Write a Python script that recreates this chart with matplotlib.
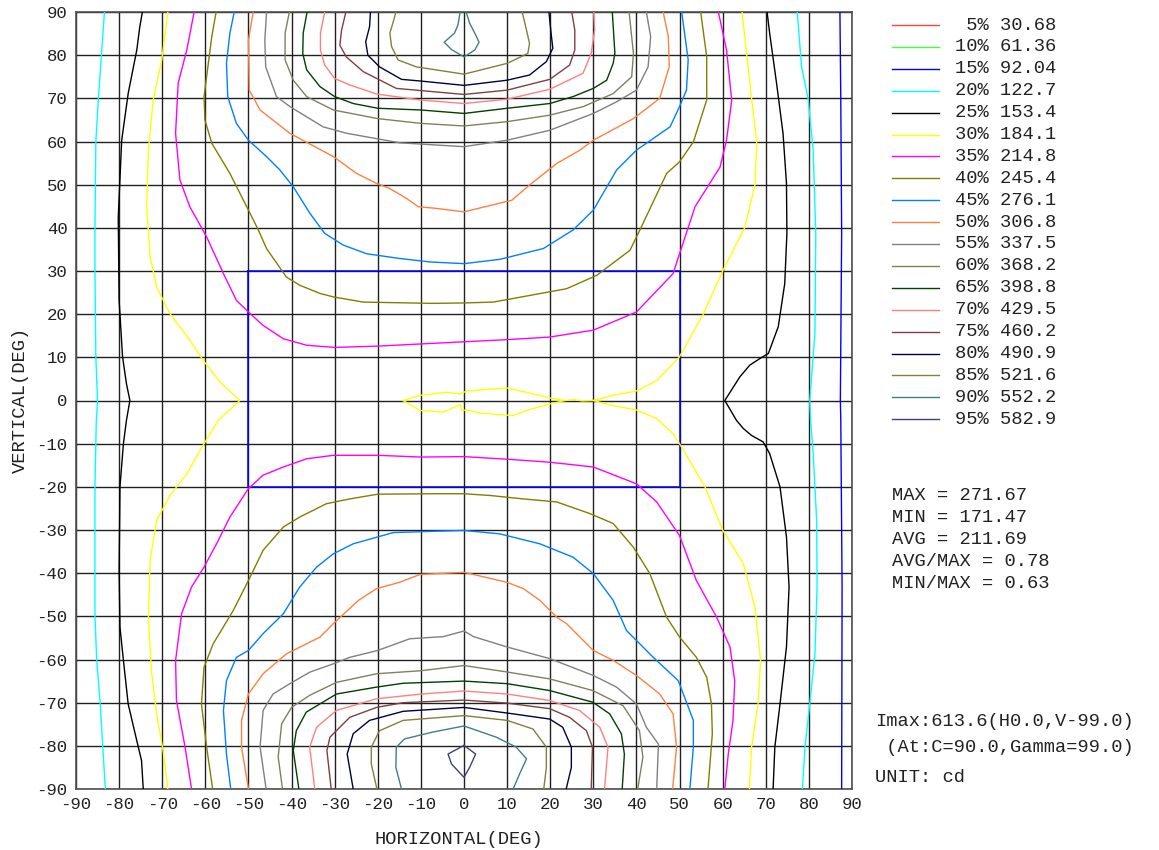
import matplotlib
matplotlib.use("Agg")
import matplotlib.pyplot as plt

plt.rcParams['font.family'] = ['Liberation Mono', 'DejaVu Sans Mono']
plt.rcParams['axes.unicode_minus'] = False

# iso-candela levels (legend)
percents = [5, 10, 15, 20, 25, 30, 35, 40, 45, 50, 55, 60, 65, 70, 75, 80, 85, 90, 95]
level_values = ["30.68", "61.36", "92.04", "122.7", "153.4", "184.1", "214.8", "245.4",
                "276.1", "306.8", "337.5", "368.2", "398.8", "429.5", "460.2", "490.9",
                "521.6", "552.2", "582.9"]
level_colors = ["#ff4040", "#40ff40", "#0000ff", "#00ffff", "#000000", "#ffff00",
                "#ff00ff", "#808000", "#0080ff", "#ff8040", "#808080", "#808060",
                "#004000", "#ff8080", "#804040", "#000040", "#808040", "#408080",
                "#404080"]

stats_lines = ["MAX = 271.67", "MIN = 171.47", "AVG = 211.69",
               "AVG/MAX = 0.78", "MIN/MAX = 0.63"]
info_lines = ["Imax:613.6(H0.0,V-99.0)", " (At:C=90.0,Gamma=99.0)", "UNIT: cd"]

ticks = list(range(-90, 91, 10))
# evaluation window (H, V)
window_h = [-50, 50]
window_v = [-20, 30]

# contour traces, (H deg, V deg)
iso15_right = [(87.2, 90), (87.4, 69.6), (87.6, 38.7), (87.3, 0), (87.4, -4.6),
               (87.7, -43.2), (87.6, -90)]

iso20_left = [(-83.4, 90), (-84.8, 70), (-85.4, 60), (-85.6, 40), (-85.6, 30),
              (-85.4, 10), (-85.0, 0), (-85.3, -5), (-85.6, -20), (-85.6, -50),
              (-85.2, -60), (-84.4, -70), (-83.8, -80), (-83.2, -90)]
iso20_right = [(77.3, 90), (78.3, 77.3), (79.8, 70), (81.0, 58), (81.6, 38.7),
               (81.4, 15.5), (80.2, 0), (80.4, -4.6), (81.0, -12.3), (81.8, -27.8),
               (81.9, -43.2), (81.4, -58.7), (80.2, -70.3), (79.1, -80.3), (78.5, -90)]

iso25_left = [(-74.6, 90), (-75.2, 86.6), (-75.9, 81.2), (-77.9, 71.1), (-79.4, 60.3),
              (-80.2, 42.5), (-80.0, 23.2), (-79.2, 10.1), (-78.3, 3.9), (-77.5, 0),
              (-78.3, -4.6), (-79.0, -10), (-79.8, -20), (-80.0, -39.4), (-79.8, -52.5),
              (-79.0, -60.2), (-77.9, -70.3), (-75.9, -78.8), (-74.8, -83.4), (-74.4, -90)]
iso25_right = [(70.3, 90), (70.9, 85.1), (72.5, 73.5), (74.0, 61.9), (74.8, 50.3),
               (74.9, 38.7), (74.4, 27.1), (72.9, 17.1), (70.6, 10.9), (68.6, 9.7),
               (66.3, 8.2), (64.0, 5.5), (60.5, 0), (63.2, -4.6), (64.8, -6.5),
               (66.7, -8.1), (69.4, -9.6), (70.9, -12.3), (73.3, -20), (74.8, -31.6),
               (75.4, -43.2), (74.8, -57.1), (73.3, -70.3), (72.1, -80.3), (71.7, -90)]

iso30_left = [(-68.7, 90), (-70.1, 78.9), (-72.1, 69.6), (-73.2, 58.0), (-73.6, 44.9),
              (-72.8, 33.3), (-71.3, 26.3), (-68.2, 20.1), (-63.6, 14.0), (-60.5, 9.3),
              (-56.6, 4.3), (-52.0, 0), (-57.0, -4.6), (-60.3, -10), (-64.3, -17.0),
              (-68.2, -22.0), (-71.3, -27.8), (-72.8, -37.0), (-73.2, -50.2),
              (-72.5, -62.6), (-71.3, -72.6), (-69.8, -81.1), (-68.7, -90)]
iso30_right = [(64.5, 90), (66.7, 70), (67.9, 60), (67.5, 50), (65.1, 40), (60.0, 30),
               (55.5, 20), (49.9, 10), (44.7, 4.6), (40.0, 2.2), (34.6, 1.2), (30.0, 0),
               (34.6, -1.2), (40.0, -2.2), (44.7, -4.2), (48.5, -7.7), (50.0, -10),
               (55.9, -20), (60.0, -30), (64.8, -37.8), (67.5, -47.9), (68.8, -60.2),
               (68.2, -70.3), (66.7, -80.3), (66.2, -90)]
iso30_center = [(-14.1, 0), (-10.2, 1.2), (-4.0, 1.9), (-0.9, 1.5), (0.6, 2.2),
                (10.0, 2.9), (14.5, 1.9), (19.9, 0.6), (23.4, 0), (19.9, -0.8),
                (14.5, -2.3), (11.4, -3.5), (3.7, -2.9), (0.6, -2.2), (-0.5, -2.3),
                (-0.9, -0.9), (-4.8, -2.7), (-10.2, -2.3), (-14.1, 0)]
iso30_link = [(23.4, 0), (25.5, 0.2), (27.5, -0.1), (30.0, 0)]

iso35_top = [(-62.6, 90), (-64.3, 81.2), (-66.3, 73.5), (-66.9, 61.9), (-65.9, 51.1),
             (-63.6, 44.9), (-59.7, 37.9), (-55.8, 29.4), (-52.8, 23.2), (-50.0, 20.5),
             (-46.6, 17.4), (-41.9, 14.3), (-36.5, 12.8), (-30.0, 12.3), (-20.0, 12.6),
             (0.0, 13.6), (10.0, 14.1), (19.9, 14.7), (30.0, 16.3), (40.0, 20.5),
             (48.5, 29.4), (50.0, 34.0), (53.6, 44.9), (59.4, 54.1), (60.9, 60.3),
             (62.1, 69.6), (60.9, 81.2), (59.0, 90)]
iso35_bottom = [(-63.2, -90), (-64.7, -80.3), (-66.7, -69.5), (-66.9, -60.2),
                (-65.5, -49.4), (-63.2, -43.2), (-60.3, -38.6), (-57.4, -33.2),
                (-54.3, -27.0), (-50.0, -20.4), (-46.6, -17.3), (-41.9, -15.4),
                (-36.5, -13.5), (-30.3, -12.7), (-20.0, -12.7), (-10.0, -13.1),
                (0.0, -13.0), (10.0, -13.6), (19.9, -14.3), (30.0, -15.4), (40.0, -19.3),
                (44.7, -23.5), (50.0, -31.3), (53.9, -41.7), (58.6, -50.2),
                (61.7, -57.1), (62.8, -64.9), (62.4, -74.1), (61.3, -81.9), (60.5, -90)]

iso40_top = [(-57.5, 90), (-58.5, 84.3), (-60.3, 70.4), (-60.1, 65.0), (-58.5, 59.6),
             (-54.3, 52.6), (-50.0, 44.1), (-47.7, 39.5), (-45.8, 35.2), (-41.2, 28.6),
             (-38.1, 26.7), (-33.4, 24.8), (-30.3, 24.0), (-23.4, 22.8), (-7.2, 22.5),
             (0.0, 22.6), (6.8, 22.8), (14.5, 24.2), (23.8, 25.9), (30.8, 29.0),
             (38.5, 34.8), (40.8, 39.5), (47.0, 52.6), (50.0, 55.3), (53.2, 59.9),
             (56.3, 69.6), (56.3, 79.6), (54.9, 90)]
iso40_bottom = [(-58.3, -90), (-59.7, -80.3), (-60.9, -70.3), (-60.3, -61.8),
                (-58.2, -56.4), (-53.5, -48.6), (-50.0, -41.7), (-46.6, -34.7),
                (-41.9, -29.3), (-38.1, -27.0), (-31.9, -23.9), (-26.5, -22.8),
                (-20.0, -21.7), (-7.2, -21.6), (0.0, -21.6), (6.0, -22.0), (13.8, -22.8),
                (21.5, -23.5), (29.2, -26.2), (34.6, -28.5), (39.3, -34.0), (43.1, -40.1),
                (47.0, -50.2), (50.0, -54.8), (53.9, -59.5), (56.3, -64.1), (57.4, -70.3),
                (57.6, -77.2), (56.6, -90)]

iso45_top = [(-53.3, 90), (-54.3, 85.1), (-55.1, 78.1), (-54.8, 70.4), (-52.8, 64.2),
             (-50.0, 60.3), (-45.8, 56.5), (-42.7, 53.4), (-39.6, 49.5), (-35.7, 43.3),
             (-32.3, 38.7), (-28.0, 36.0), (-22.6, 34.0), (-14.9, 32.9), (-7.9, 32.1),
             (0.0, 31.7), (8.3, 32.7), (18.4, 35.2), (25.3, 39.5), (30.0, 44.1),
             (35.4, 53.4), (40.0, 58.0), (47.8, 63.4), (50.0, 68.1), (51.6, 71.9),
             (52.0, 78.9), (50.5, 90)]
iso45_bottom = [(-54.1, -90), (-55.1, -81.9), (-55.8, -71.8), (-55.1, -64.9),
                (-52.8, -59.5), (-50.0, -57.9), (-46.6, -54.0), (-41.9, -49.4),
                (-38.1, -43.2), (-34.2, -38.6), (-30.3, -35.5), (-25.7, -33.2),
                (-20.0, -31.6), (-16.4, -30.6), (-7.2, -30.3), (0.0, -30.1),
                (8.3, -30.9), (17.6, -33.2), (25.3, -36.3), (30.0, -40.1), (34.6, -46.3),
                (37.7, -53.3), (43.9, -59.5), (49.7, -64.9), (53.2, -74.1),
                (53.2, -80.3), (52.4, -90)]

iso50_top = [(-48.9, 90), (-50.0, 83.5), (-49.8, 71.9), (-47.3, 67.3), (-40.4, 61.9),
             (-30.3, 56.5), (-24.9, 52.6), (-20.3, 50.3), (-17.2, 49.1), (-13.3, 46.8),
             (-10.6, 44.9), (-6.4, 44.5), (0.0, 43.7), (11.1, 46.4), (15.3, 50.0),
             (21.5, 54.9), (26.9, 58.0), (30.0, 60.3), (39.3, 65.3), (45.4, 70.0),
             (47.6, 77.3), (47.4, 84.3), (46.2, 90)]
iso50_bottom = [(-50.0, -90), (-51.6, -80.3), (-51.6, -74.1), (-50.0, -68.0),
                (-46.6, -63.3), (-41.2, -58.7), (-33.4, -54.8), (-30.3, -51.7),
                (-24.5, -46.3), (-20.3, -43.6), (-14.9, -42.1), (-10.2, -40.3),
                (0.0, -39.8), (9.9, -42.1), (13.8, -43.6), (17.6, -46.3), (21.5, -50.2),
                (23.8, -51.7), (30.0, -57.9), (34.6, -60.2), (40.0, -63.7),
                (45.4, -68.0), (48.5, -72.6), (49.3, -80.3), (48.4, -90)]

iso55_top = [(-45.8, 90), (-46.2, 83.5), (-46.0, 77.3), (-43.5, 70.4), (-40.4, 68.1),
             (-32.7, 63.4), (-27.2, 61.9), (-14.9, 59.7), (0.0, 58.8), (10.0, 60.3),
             (19.9, 62.6), (30.0, 66.5), (35.4, 69.2), (40.0, 71.9), (42.7, 77.3),
             (43.3, 84.3), (42.3, 90)]
iso55_bottom = [(-45.9, -90), (-47.3, -80.3), (-46.6, -71.8), (-44.3, -68.0),
                (-40.4, -65.6), (-35.7, -62.9), (-30.3, -61.0), (-26.5, -59.5),
                (-20.0, -57.9), (-12.6, -55.2), (-4.8, -54.7), (0.0, -53.4),
                (2.2, -54.7), (10.0, -57.1), (19.9, -59.8), (30.0, -63.7), (35.4, -66.4),
                (40.0, -70.3), (42.3, -75.7), (45.1, -79.6), (44.7, -90)]

iso60_top = [(-40.5, 90), (-41.5, 85.1), (-41.5, 78.9), (-39.6, 74.2), (-36.5, 70.4),
             (-30.3, 67.3), (-20.0, 65.3), (-10.0, 64.2), (0.0, 63.6), (10.0, 64.6),
             (19.9, 66.1), (27.7, 68.1), (34.6, 71.1), (38.9, 75.0), (39.3, 80.4),
             (38.3, 90)]
iso60_bottom = [(-42.1, -90), (-43.1, -82.6), (-42.3, -74.9), (-40.0, -71.1),
                (-35.8, -68.3), (-29.6, -65.3), (-20.3, -63.3), (-10.0, -62.6),
                (0.0, -61.4), (10.0, -62.9), (19.9, -64.5), (29.9, -67.2), (36.9, -70.7),
                (40.7, -76.5), (41.5, -82.6), (40.3, -90)]

iso65_top = [(-36.4, 90), (-37.3, 85.1), (-37.4, 80.4), (-36.5, 76.6), (-33.4, 72.7),
             (-30.0, 70.4), (-25.7, 68.8), (-20.0, 67.7), (-10.0, 67.3), (0.0, 66.5),
             (10.0, 67.7), (19.9, 68.8), (25.3, 70.4), (30.0, 72.3), (33.1, 74.2),
             (34.6, 78.1), (35.0, 80.4), (34.4, 90)]
iso65_bottom = [(-38.3, -90), (-39.6, -81.1), (-38.9, -76.5), (-36.6, -72.2),
                (-29.6, -68.0), (-20.3, -66.4), (-14.1, -65.5), (0.0, -65.0),
                (10.0, -65.6), (19.9, -67.2), (29.9, -69.9), (33.8, -72.6),
                (36.5, -77.2), (37.2, -81.9), (36.7, -90)]

iso70_top = [(-32.3, 90), (-33.3, 85.1), (-33.3, 81.2), (-32.3, 77.7), (-30.0, 74.6),
             (-26.5, 73.1), (-20.3, 71.0), (-10.0, 69.6), (0.0, 68.8), (10.0, 69.8),
             (19.9, 72.1), (27.6, 75.8), (29.5, 80.4), (30.3, 85.8), (30.1, 90)]
iso70_bottom = [(-34.6, -90), (-35.8, -80.3), (-34.2, -75.7), (-29.6, -71.8),
                (-20.3, -69.1), (-10.0, -68.0), (0.0, -67.3), (10.0, -68.0),
                (19.9, -69.5), (26.8, -71.8), (31.5, -75.7), (33.4, -80.3), (32.6, -90)]

iso75_top = [(-27.4, 90), (-28.4, 85.8), (-28.8, 82.3), (-27.3, 79.6), (-23.4, 76.2),
             (-15.7, 72.3), (-10.0, 71.8), (0.0, 70.9), (10.0, 71.9), (19.9, 74.4),
             (24.5, 77.7), (25.7, 81.2), (25.7, 85.8), (25.0, 90)]
iso75_bottom = [(-30.8, -90), (-31.8, -81.1), (-31.1, -78.0), (-26.5, -73.4),
                (-20.3, -71.1), (-14.1, -70.0), (0.0, -69.4), (10.0, -70.1),
                (19.9, -71.4), (24.5, -73.4), (28.4, -76.5), (29.8, -80.3), (29.5, -90)]

iso80_top = [(-21.7, 90), (-21.9, 86.6), (-22.8, 83.1), (-22.3, 80.0), (-19.6, 77.3),
             (-14.5, 74.4), (-10.0, 74.0), (0.0, 73.0), (10.0, 74.2), (15.2, 75.4),
             (19.1, 78.5), (20.6, 81.6), (20.2, 85.1), (19.7, 90)]
iso80_bottom = [(-25.7, -90), (-27.1, -81.9), (-25.7, -77.2), (-21.9, -74.1),
                (-14.1, -72.0), (0.0, -71.1), (10.0, -72.4), (19.9, -73.8),
                (22.9, -75.7), (24.9, -80.3), (24.9, -85.0), (23.7, -90)]

iso85_top = [(-15.8, 90), (-16.3, 88.1), (-17.2, 85.1), (-16.8, 82.0), (-15.3, 78.9),
             (-11.1, 77.3), (0.0, 75.6), (10.0, 78.1), (14.8, 80.4), (15.2, 82.7),
             (14.5, 85.8), (13.5, 90)]
iso85_bottom = [(-20.2, -90), (-21.5, -84.2), (-21.5, -80.3), (-19.6, -76.5),
                (-14.1, -74.1), (0.0, -73.0), (10.0, -74.1), (16.0, -76.1),
                (19.1, -80.3), (19.1, -85.0), (18.5, -90)]

iso90_top = [(-0.9, 90), (-1.4, 87.0), (-2.2, 85.1), (-4.6, 83.0), (-2.9, 81.3),
             (0.0, 79.6), (2.5, 81.2), (3.5, 83.0), (2.5, 85.1), (1.3, 87.4), (0.5, 90)]
iso90_bottom = [(-14.5, -90), (-15.8, -85.0), (-15.7, -80.3), (-13.8, -78.4),
                (-7.2, -76.8), (0.0, -75.4), (7.5, -78.0), (12.1, -80.3), (14.5, -83.0),
                (12.9, -86.5), (11.4, -90)]

iso95_bottom = [(0.0, -79.9), (-3.7, -81.9), (-2.9, -84.2), (0.0, -87.3),
                (1.3, -85.0), (2.7, -81.9), (0.0, -79.9)]

traces = {
    15: [iso15_right],
    20: [iso20_left, iso20_right],
    25: [iso25_left, iso25_right],
    30: [iso30_left, iso30_right, iso30_center, iso30_link],
    35: [iso35_top, iso35_bottom],
    40: [iso40_top, iso40_bottom],
    45: [iso45_top, iso45_bottom],
    50: [iso50_top, iso50_bottom],
    55: [iso55_top, iso55_bottom],
    60: [iso60_top, iso60_bottom],
    65: [iso65_top, iso65_bottom],
    70: [iso70_top, iso70_bottom],
    75: [iso75_top, iso75_bottom],
    80: [iso80_top, iso80_bottom],
    85: [iso85_top, iso85_bottom],
    90: [iso90_top, iso90_bottom],
    95: [iso95_bottom],
}

W, H = 1159, 850
fig = plt.figure(figsize=(W / 100, H / 100), dpi=100)
ax = fig.add_axes([76 / W, (H - 789) / H, 776 / W, 777 / H])

ax.set_xlim(-90, 90)
ax.set_ylim(-90, 90)
ax.set_xticks(ticks)
ax.set_yticks(ticks)
ax.set_xticklabels([str(t) for t in ticks], fontsize=12.5)
ax.set_yticklabels([str(t) for t in ticks], fontsize=12.5)
ax.tick_params(length=0, pad=6, colors='#222222')
ax.grid(True, color='#202020', linewidth=1.0)
ax.set_axisbelow(True)
for sp in ax.spines.values():
    sp.set_color('#505050')
    sp.set_linewidth(1.2)

# evaluation window
ax.plot([window_h[0], window_h[1], window_h[1], window_h[0], window_h[0]],
        [window_v[1], window_v[1], window_v[0], window_v[0], window_v[1]],
        color='#0000ff', linewidth=1.1, zorder=3)

for pct, segs in traces.items():
    col = level_colors[percents.index(pct)]
    for seg in segs:
        hs = [p[0] for p in seg]
        vs = [p[1] for p in seg]
        ax.plot(hs, vs, color=col, linewidth=1.0, zorder=4, clip_on=True)

fig.text(459 / W, 1 - 840 / H, "HORIZONTAL(DEG)", fontsize=13.5,
         ha='center', va='center', color='#222222')
fig.text(20 / W, 1 - 400 / H, "VERTICAL(DEG)", fontsize=13.5, rotation=90,
         ha='center', va='center', color='#222222')

# legend on the right
for i, (p, val, col) in enumerate(zip(percents, level_values, level_colors)):
    y = 1 - (25 + i * 21.9) / H
    fig.add_artist(plt.Line2D([892 / W, 939 / W], [y, y], color=col, linewidth=1.0))
    fig.text(955 / W, y, f"{p:>2}% {val}".rjust(9), fontsize=13.5,
             va='center', ha='left', color='#222222')

for i, line in enumerate(stats_lines):
    fig.text(892 / W, 1 - (495 + i * 22) / H, line, fontsize=13.5,
             va='center', ha='left', color='#222222')

info_y = [722, 748, 777]
for line, yy in zip(info_lines, info_y):
    fig.text(875 / W, 1 - yy / H, line, fontsize=13.5,
             va='center', ha='left', color='#222222')

fig.savefig("out.png", dpi=100)
